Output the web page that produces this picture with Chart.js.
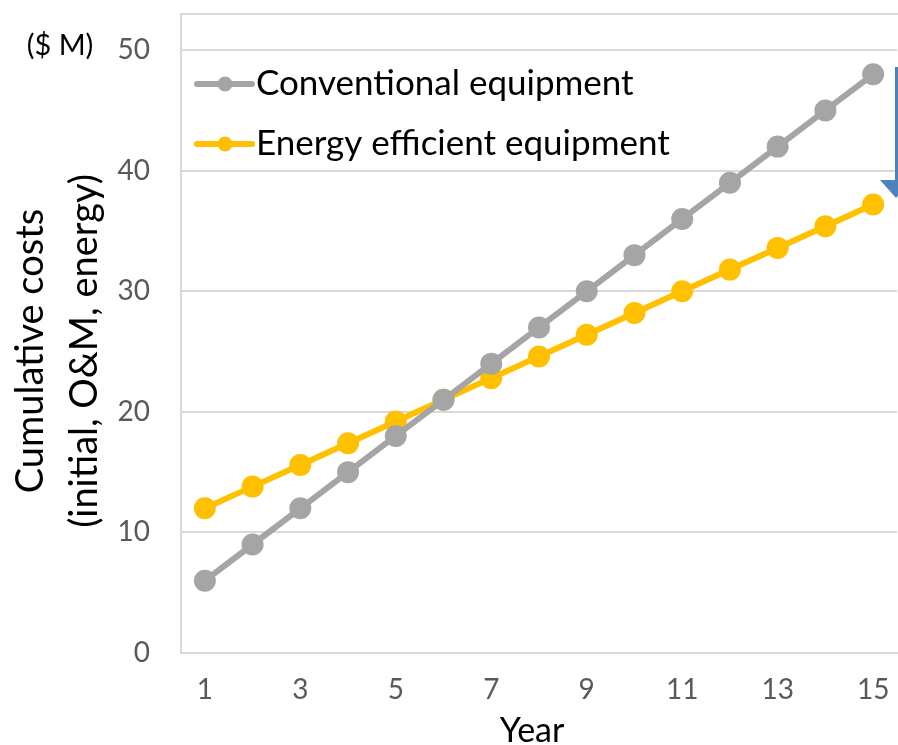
<!DOCTYPE html>
<html>
<head>
<meta charset="utf-8">
<script src="https://cdn.jsdelivr.net/npm/chart.js@4.4.1/dist/chart.umd.min.js"></script>
<style>
  html, body { margin: 0; padding: 0; background: #fff; overflow: hidden; }
  canvas { display: block; }
</style>
</head>
<body>
<canvas id="canvas-chart" width="911" height="745"></canvas>
<script>
    var years = ['1', '2', '3', '4', '5', '6', '7', '8', '9', '10', '11', '12', '13', '14', '15'];
    var conventional = [6, 9, 12, 15, 18, 21, 24, 27, 30, 33, 36, 39, 42, 45, 48];
    var efficient = [12, 13.8, 15.6, 17.4, 19.2, 21, 22.8, 24.6, 26.4, 28.2, 30, 31.8, 33.6, 35.4, 37.2];
    var yTicks = [0, 10, 20, 30, 40, 50];
    var yTop = 53; // plot area frame sits a bit above 50

    var yTitle = ['Cumulative costs', '(initial, O&M, energy)'];
    var xTitle = 'Year';
    var unitLabel = '($ M)';

    var FONT = 'Lato, "Open Sans", sans-serif';

    // frame line along the top of the plot area
    var frameTop = {
        id: 'frameTop',
        beforeDatasetsDraw: function (chart) {
            var ctx = chart.ctx;
            var area = chart.chartArea;
            ctx.save();
            ctx.strokeStyle = '#D9D9D9';
            ctx.lineWidth = 2;
            ctx.beginPath();
            ctx.moveTo(area.left, area.top);
            ctx.lineTo(area.right + 10, area.top);
            ctx.stroke();
            ctx.restore();
        }
    };

    // legend inside the plot area, axis titles, unit label, arrow
    var extras = {
        id: 'extras',
        afterDraw: function (chart) {
            var ctx = chart.ctx;
            var area = chart.chartArea;
            ctx.save();
            chart.data.datasets.forEach(function (ds, i) {
                var y = area.top + 70 + i * 60;
                var x0 = area.left + 16;
                ctx.strokeStyle = ds.borderColor;
                ctx.lineWidth = 6;
                ctx.lineCap = 'round';
                ctx.beginPath();
                ctx.moveTo(x0, y);
                ctx.lineTo(x0 + 55, y);
                ctx.stroke();
                ctx.fillStyle = ds.pointBackgroundColor;
                ctx.beginPath();
                ctx.arc(x0 + 28, y, 7.5, 0, Math.PI * 2);
                ctx.fill();
                ctx.fillStyle = '#000';
                ctx.font = '35px ' + FONT;
                ctx.textBaseline = 'middle';
                ctx.fillText(ds.label, x0 + 59, y);
            });

            ctx.fillStyle = '#000';

            // unit label
            ctx.font = '29px ' + FONT;
            ctx.textAlign = 'center';
            ctx.textBaseline = 'middle';
            ctx.fillText(unitLabel, 60, 46);

            // axis titles
            ctx.textBaseline = 'alphabetic';
            ctx.font = '34px ' + FONT;
            ctx.fillText(xTitle, 532, 742);

            ctx.font = '38px ' + FONT;
            [43, 97].forEach(function (x, i) {
                ctx.save();
                ctx.translate(x, 351);
                ctx.rotate(-Math.PI / 2);
                ctx.fillText(yTitle[i], 0, 0);
                ctx.restore();
            });

            // blue arrow, cut off at the right edge
            ctx.fillStyle = '#4F81BD';
            ctx.beginPath();
            ctx.moveTo(895, 67);
            ctx.lineTo(905, 67);
            ctx.lineTo(905, 180);
            ctx.lineTo(912, 180);
            ctx.lineTo(896, 198);
            ctx.lineTo(880, 180);
            ctx.lineTo(895, 180);
            ctx.closePath();
            ctx.fill();
            ctx.restore();
        }
    };

    var context = document.getElementById('canvas-chart').getContext('2d');

    var chart = new Chart(context, {
        type: 'line',
        data: {
            'labels': years,
            'datasets': [
                {
                    'label': 'Conventional equipment',
                    'data': conventional,
                    'borderColor': '#A5A5A5',
                    'backgroundColor': '#A5A5A5',
                    'pointBackgroundColor': '#A5A5A5',
                    'pointBorderColor': '#A5A5A5',
                    'borderWidth': 6,
                    'pointRadius': 8,
                    'tension': 0,
                },
                {
                    'label': 'Energy efficient equipment',
                    'data': efficient,
                    'borderColor': '#FFC000',
                    'backgroundColor': '#FFC000',
                    'pointBackgroundColor': '#FFC000',
                    'pointBorderColor': '#FFC000',
                    'borderWidth': 6,
                    'pointRadius': 8,
                    'tension': 0,
                },
            ],
        },
        options: {
            responsive: false,
            animation: false,
            layout: { padding: { left: 0, top: 11, right: 0, bottom: 0 } },
            plugins: {
                legend: { display: false },
                tooltip: { enabled: false },
            },
            scales: {
                x: {
                    offset: true,
                    grid: { display: false, drawTicks: false },
                    border: { display: true, color: '#D9D9D9', width: 2 },
                    afterFit: function (axis) {
                        axis.height = 92; // room for tick labels and the title drawn by the plugin
                    },
                    ticks: {
                        autoSkip: false,
                        maxRotation: 0,
                        color: '#595959',
                        font: { family: FONT, size: 28 },
                        padding: 20,
                        callback: function (val, i) {
                            return i % 2 === 0 ? years[i] : '';
                        },
                    },
                },
                y: {
                    min: 0,
                    max: yTop,
                    afterBuildTicks: function (axis) {
                        axis.ticks = yTicks.concat([yTop]).map(function (v) {
                            return { value: v };
                        });
                    },
                    afterFit: function (axis) {
                        axis.width = 181;
                        axis.paddingTop = 0;
                    },
                    grid: { color: '#D9D9D9', lineWidth: 2, drawTicks: false },
                    border: { display: true, color: '#D9D9D9', width: 2 },
                    ticks: {
                        color: '#595959',
                        font: { family: FONT, size: 28 },
                        padding: 31,
                        callback: function (val) {
                            return yTicks.indexOf(val) >= 0 ? val : '';
                        },
                    },
                },
            },
        },
        plugins: [frameTop, extras],
    });
</script>
</body>
</html>
